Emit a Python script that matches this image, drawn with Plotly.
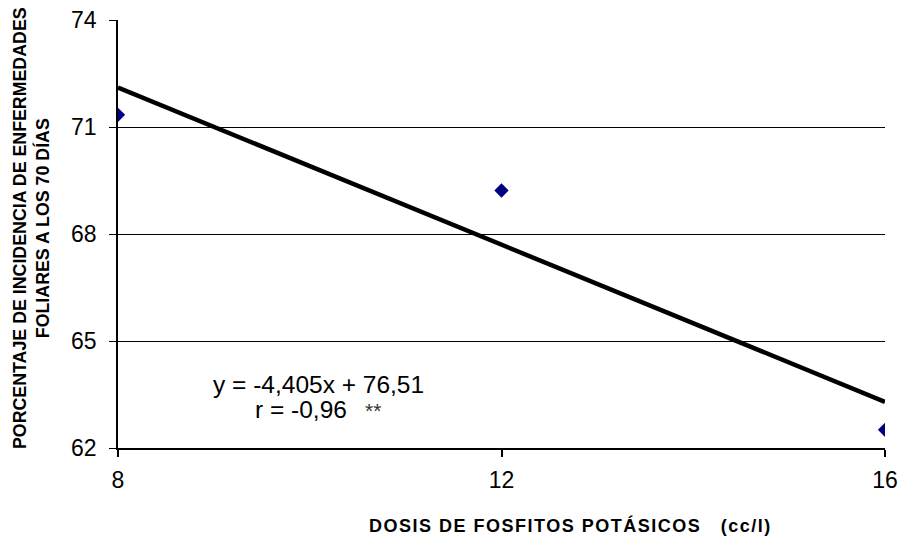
import numpy as np
import plotly.graph_objects as go

dosis = [8, 12, 16]
incidencia = [71.34, 69.22, 62.51]
y_ticks = [62, 65, 68, 71, 74]
x_ticks = [8, 12, 16]

# trendline: y = -4.405x + 76.51 with x = treatment index (1..3)
idx = np.arange(1, len(dosis) + 1)
slope, intercept = -4.405, 76.51
trend = slope * idx + intercept

FONT = "Arial, Liberation Sans, sans-serif"

W, H = 901, 541
ML, MR, MT, MB = 118, 16, 20, 93
PW, PH = W - ML - MR, H - MT - MB
OX, OY = ML, MT  # page position of plot-area top-left (body margin removed)


def px(xp):
    return (xp - OX) / PW


def py(yp):
    return (OY + PH - yp) / PH


fig = go.Figure()
fig.add_trace(go.Scatter(
    x=dosis, y=trend.tolist(), mode="lines",
    line=dict(color="black", width=4.5), showlegend=False, hoverinfo="skip"))
fig.add_trace(go.Scatter(
    x=dosis, y=incidencia, mode="markers",
    marker=dict(symbol="diamond", size=11, color="#000080"), showlegend=False))

# regression equation
fig.add_annotation(
    x=px(318), y=py(384), xref="paper", yref="paper", xanchor="center", yanchor="middle",
    text="y = -4,405x + 76,51", showarrow=False,
    font=dict(family=FONT, size=24.5, color="black"))
fig.add_annotation(
    x=px(301), y=py(409), xref="paper", yref="paper", xanchor="center", yanchor="middle",
    text="r = -0,96", showarrow=False,
    font=dict(family=FONT, size=24.5, color="black"))
fig.add_annotation(
    x=px(373), y=py(410), xref="paper", yref="paper", xanchor="center", yanchor="middle",
    text="**", showarrow=False,
    font=dict(family=FONT, size=21, color="#333333"))

# x-axis title
fig.add_annotation(
    x=px(570), y=py(525), xref="paper", yref="paper",
    xanchor="center", yanchor="middle", showarrow=False,
    text="<b><span style='letter-spacing:1.5px'>DOSIS DE FOSFITOS POTÁSICOS&nbsp;&nbsp;&nbsp;(cc/l)</span></b>",
    font=dict(family=FONT, size=18, color="black"))

# y-axis title
fig.add_annotation(
    x=px(31), y=py(228), xref="paper", yref="paper",
    xanchor="center", yanchor="middle", showarrow=False, textangle=-90,
    text="<b>PORCENTAJE DE INCIDENCIA DE ENFERMEDADES<br>FOLIARES A LOS 70 DÍAS</b>",
    font=dict(family=FONT, size=17.8, color="black"))

fig.update_layout(
    width=W, height=H,
    margin=dict(l=ML, r=MR, t=MT, b=MB, autoexpand=False),
    plot_bgcolor="white", paper_bgcolor="white",
    font=dict(family=FONT, color="black"),
    xaxis=dict(
        range=[8, 16], tickvals=x_ticks, ticktext=[str(v) for v in x_ticks],
        showgrid=False, zeroline=False, showline=True, linecolor="black", linewidth=1.5,
        ticks="outside", ticklen=7, tickcolor="black", tickwidth=1.5,
        tickfont=dict(size=23, family=FONT), ticklabelstandoff=4, automargin=False,
        ticklabeloverflow="allow"),
    yaxis=dict(
        range=[62, 74], tickvals=y_ticks, ticktext=[str(v) for v in y_ticks],
        showgrid=True, gridcolor="black", gridwidth=1,
        zeroline=False, showline=True, linecolor="black", linewidth=1.5,
        ticks="outside", ticklen=7, tickcolor="black", tickwidth=1,
        tickfont=dict(size=23, family=FONT), ticklabelstandoff=8, automargin=False,
        ticklabeloverflow="allow"),
)

fig.write_html(
    "out.html",
    config={"displayModeBar": False},
    post_script="document.body.style.margin='0';document.body.style.overflow='hidden';",
)
